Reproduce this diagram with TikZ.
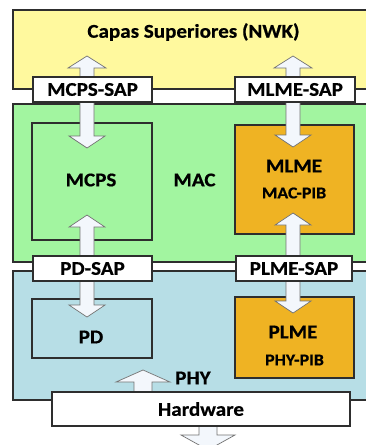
\documentclass[tikz,border=0pt]{standalone}
\usepackage{fontspec}
\setmainfont{Carlito}[FakeStretch=1.08, BoldFeatures={FakeBold=0.6}]
\usetikzlibrary{calc}
\pgfdeclarelayer{bg}
\pgfdeclarelayer{arr}
\pgfsetlayers{bg,arr,main}
\definecolor{yel}{HTML}{FFF99E}
\definecolor{grn}{HTML}{A2F5A0}
\definecolor{blu}{HTML}{B7DEE6}
\definecolor{org}{HTML}{EFB323}
\definecolor{edge}{HTML}{2E2E2E}
\definecolor{arrfill}{HTML}{F3F7FC}
\tikzset{
  band/.style={draw=edge, line width=1.1pt, inner sep=0pt},
  inner/.style={draw=edge, line width=1.1pt, inner sep=0pt},
  sap/.style={draw=edge, line width=1.1pt, fill=white, inner sep=0pt,
    minimum height=25pt, font=\fontsize{19.5}{21}\selectfont\bfseries},
  lbl/.style={inner sep=0pt, font=\fontsize{19.5}{21}\selectfont\bfseries},
  pib/.style={inner sep=0pt, font=\fontsize{16.5}{18}\selectfont\bfseries},
  arrsty/.style={draw=black!55, line width=0.7pt, fill=arrfill, line join=miter},
}
\newcommand\blkarrow[5]{%
  \coordinate (hb) at ($(#2)!#5pt!(#1)$);
  \draw[arrsty] ($(#1)+(-#3,0)$) -- ($(hb)+(-#3,0)$) -- ($(hb)+(-#4,0)$) -- (#2)
    -- ($(hb)+(#4,0)$) -- ($(hb)+(#3,0)$) -- ($(#1)+(#3,0)$) -- cycle;}
\begin{document}
\begin{tikzpicture}[x=1pt,y=-1pt]
\useasboundingbox (0,0) rectangle (366,445);
\clip (0,0) rectangle (366,445);
\begin{pgfonlayer}{bg}
  \fill[white] (0,0) rectangle (366,445);
  % bands
  \node[band, fill=yel, minimum width=367pt, minimum height=79pt] (nwk) at (196.5,49.5) {};
  \node[band, fill=grn, minimum width=367pt, minimum height=158pt] (mac) at (196.5,183) {};
  \node[band, fill=blu, minimum width=367pt, minimum height=129pt] (phy) at (196.5,335.5) {};
  % inner blocks
  \node[inner, fill=grn, minimum width=120pt, minimum height=117pt] (mcps) at (92,181.5) {};
  \node[inner, fill=org, minimum width=119pt, minimum height=109pt] (mlme) at (294.5,179.5) {};
  \node[inner, fill=blu, minimum width=120pt, minimum height=59pt] (pd) at (92,328.5) {};
  \node[inner, fill=org, minimum width=119pt, minimum height=81pt] (plme) at (294.5,337.5) {};
\end{pgfonlayer}
% labels
\node[lbl] (tnwk) at (193.5,32) {Capas Superiores (NWK)};
\node[lbl] (tmac) at (194.5,180) {MAC};
\node[lbl] (tmcps) at (91,180) {MCPS};
\node[lbl] (tmlme) at (294,166) {MLME};
\node[pib] (tmacpib) at (294,193) {MAC-PIB};
\node[lbl] (tpd) at (91,337) {PD};
\node[lbl] (tplme) at (293,332) {PLME};
\node[pib] (tphypib) at (294.5,360) {PHY-PIB};
% SAP boxes
\node[sap, minimum width=119pt] (mcpssap) at (92.5,89.5) {MCPS-SAP};
\node[sap, minimum width=120pt] (mlmesap) at (295,89.5) {MLME-SAP};
\node[sap, minimum width=119pt] (pdsap) at (92.5,268.5) {PD-SAP};
\node[sap, minimum width=116pt] (plmesap) at (294,268.5) {PLME-SAP};
\node[sap, minimum width=298pt, minimum height=34pt] (hw) at (201,409) {Hardware};
\node[lbl, anchor=west] (tphy) at (175,378) {PHY};
% arrow anchors
\coordinate (colL) at (87,0);
\coordinate (colR) at (293,0);
\coordinate (sUL) at (mcpssap.center -| colL);
\coordinate (sUR) at (mlmesap.center -| colR);
\coordinate (sDL) at (pdsap.center -| colL);
\coordinate (sDR) at (plmesap.center -| colR);
\coordinate (sPHY) at (143,409);
\coordinate (sHW) at (208,409);
\coordinate (tUL) at (87,56);
\coordinate (tUR) at (293,56);
\coordinate (tMCPS) at (87,148);
\coordinate (tMLME) at (293,147);
\coordinate (tMCPSu) at (87,215);
\coordinate (tMLMEu) at (293,213);
\coordinate (tPD) at (87,317);
\coordinate (tPLME) at (293,313);
\coordinate (tPHY) at (143,370);
\coordinate (tHW) at (208,450);
\begin{pgfonlayer}{arr}
  \blkarrow{sUL}{tUL}{7}{19}{12}
  \blkarrow{sUR}{tUR}{7}{19}{12}
  \blkarrow{sUL}{tMCPS}{7}{18}{12}
  \blkarrow{sUR}{tMLME}{7}{18}{12}
  \blkarrow{sDL}{tMCPSu}{7}{18}{12}
  \blkarrow{sDR}{tMLMEu}{7}{18}{12}
  \blkarrow{sDL}{tPD}{7}{18}{12}
  \blkarrow{sDR}{tPLME}{7}{18}{12}
  \blkarrow{sPHY}{tPHY}{9}{27}{12}
  \blkarrow{sHW}{tHW}{9}{27}{15}
\end{pgfonlayer}
\end{tikzpicture}
\end{document}
